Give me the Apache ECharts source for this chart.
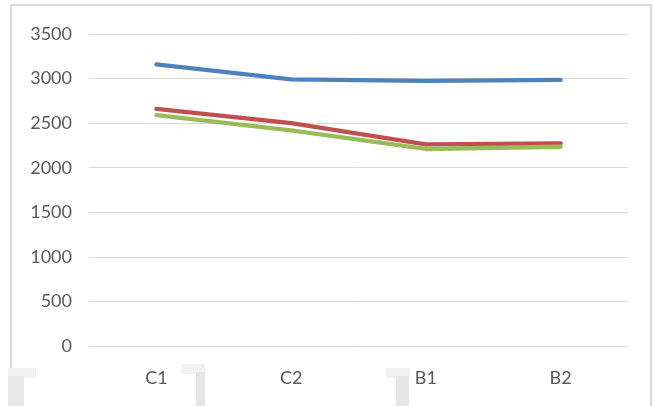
<!DOCTYPE html>
<html>
<head>
<meta charset="utf-8">
<style>
  html, body { margin: 0; padding: 0; background: #ffffff; }
  #chart { width: 654px; height: 406px; }
</style>
<script src="https://cdn.jsdelivr.net/npm/echarts@6/dist/echarts.min.js"></script>
</head>
<body>
<div id="chart"></div>
<script>
// Categories along the x axis
const categories = ['C1', 'C2', 'B1', 'B2'];

// Series values
const blueSeries = [3160, 2990, 2975, 2985];
const redSeries = [2660, 2500, 2262, 2272];
const greenSeries = [2590, 2420, 2210, 2235];

// Value axis range and step
const yMin = 0;
const yMax = 3500;
const yStep = 500;

const labelFont = 'Lato, "Open Sans", sans-serif';
const labelColor = '#595959';

const chart = echarts.init(document.getElementById('chart'), null, { renderer: 'canvas' });

function lineSeries(name, data, color) {
  return {
    name: name,
    type: 'line',
    data: data,
    symbol: 'none',
    smooth: false,
    lineStyle: { color: color, width: 4.3, cap: 'round', join: 'round' },
    itemStyle: { color: color },
    z: 3
  };
}

chart.setOption({
  animation: false,
  backgroundColor: '#ffffff',
  grid: { left: 89, right: 26, top: 34, bottom: 60, containLabel: false },
  xAxis: {
    type: 'category',
    data: categories,
    boundaryGap: true,
    axisLine: { show: false },
    axisTick: { show: false },
    axisLabel: {
      color: labelColor,
      fontFamily: labelFont,
      fontSize: 18,
      margin: 23
    },
    splitLine: { show: false }
  },
  yAxis: {
    type: 'value',
    min: yMin,
    max: yMax,
    interval: yStep,
    axisLine: { show: false },
    axisTick: { show: false },
    axisLabel: {
      color: labelColor,
      fontFamily: labelFont,
      fontSize: 18,
      margin: 17,
      formatter: function (v) { return String(v); }
    },
    splitLine: { lineStyle: { color: '#d9d9d9', width: 1 } }
  },
  series: [
    lineSeries('Blue', blueSeries, '#4f81bd'),
    lineSeries('Red', redSeries, '#c0504d'),
    lineSeries('Green', greenSeries, '#9bbb59')
  ],
  graphic: [
    // chart frame
    {
      type: 'rect',
      shape: { x: 11, y: 5, width: 640, height: 420 },
      style: { fill: 'none', stroke: '#d9d9d9', lineWidth: 2 },
      silent: true,
      z: -1
    },
    // faint grey shapes along the lower edge
    {
      type: 'group',
      silent: true,
      z: -2,
      children: [
        { type: 'rect', shape: { x: 8, y: 368, width: 28, height: 10 }, style: { fill: '#f2f2f2' } },
        { type: 'rect', shape: { x: 8, y: 376, width: 16, height: 30 }, style: { fill: '#e8e8e8' } },
        { type: 'rect', shape: { x: 181, y: 364, width: 24, height: 10 }, style: { fill: '#f2f2f2' } },
        { type: 'rect', shape: { x: 196, y: 372, width: 9, height: 34 }, style: { fill: '#e6e6e6' } },
        { type: 'rect', shape: { x: 386, y: 368, width: 24, height: 10 }, style: { fill: '#f2f2f2' } },
        { type: 'rect', shape: { x: 396, y: 376, width: 13, height: 30 }, style: { fill: '#e6e6e6' } }
      ]
    }
  ]
});
</script>
</body>
</html>
